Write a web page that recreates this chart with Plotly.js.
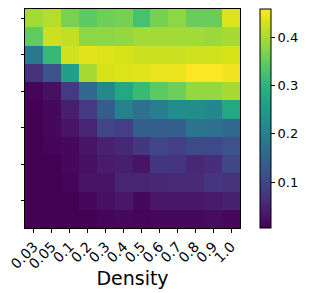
<!DOCTYPE html>
<html>
<head>
<meta charset="utf-8">
<script src="https://cdn.plot.ly/plotly-3.0.1.min.js"></script>
<style>html,body{margin:0;padding:0;background:#fff;}#chart{width:309px;height:293px;}</style>
</head>
<body>
<div id="chart"></div>
<script>
const densities = ['0.03','0.05','0.1','0.2','0.3','0.4','0.5','0.6','0.7','0.8','0.9','1.0'];
const rowIndex = [0,1,2,3,4,5,6,7,8,9,10,11];
const row0  = [0.395,0.408,0.367,0.345,0.358,0.363,0.327,0.363,0.381,0.354,0.354,0.435];
const row1  = [0.349,0.422,0.417,0.381,0.381,0.386,0.395,0.395,0.395,0.395,0.390,0.399];
const row2  = [0.186,0.309,0.426,0.440,0.435,0.431,0.422,0.422,0.422,0.426,0.426,0.431];
const row3  = [0.068,0.118,0.263,0.399,0.431,0.435,0.438,0.444,0.444,0.458,0.458,0.449];
const row4  = [0.010,0.023,0.082,0.159,0.218,0.277,0.313,0.345,0.358,0.386,0.386,0.399];
const row5  = [0.005,0.014,0.041,0.082,0.136,0.200,0.173,0.195,0.222,0.227,0.213,0.277];
const row6  = [0.005,0.014,0.028,0.050,0.100,0.087,0.141,0.141,0.141,0.177,0.173,0.159];
const row7  = [0.005,0.010,0.014,0.028,0.046,0.055,0.077,0.100,0.087,0.105,0.105,0.118];
const row8  = [0.005,0.005,0.014,0.023,0.037,0.041,0.028,0.077,0.073,0.055,0.064,0.100];
const row9  = [0.005,0.005,0.010,0.028,0.028,0.050,0.050,0.055,0.059,0.059,0.073,0.068];
const row10 = [0.005,0.005,0.005,0.014,0.023,0.032,0.014,0.032,0.032,0.032,0.037,0.046];
const row11 = [0.005,0.005,0.005,0.005,0.010,0.014,0.010,0.014,0.014,0.014,0.019,0.014];
const yTickVals = [0,2,4,6,8,10];
const yTickText = ['','','','','',''];
const cbTickVals = [0.1,0.2,0.3,0.4];
const cbTickText = ['0.1','0.2','0.3','0.4'];

const z = [row0,row1,row2,row3,row4,row5,row6,row7,row8,row9,row10,row11];

const font = 'DejaVu Sans, sans-serif';
const data = [{
  type: 'heatmap',
  x: densities,
  y: rowIndex,
  z: z,
  colorscale: 'Viridis',
  zmin: 0.005,
  zmax: 0.458,
  xgap: 0, ygap: 0,
  colorbar: {
    x: 1.095, xanchor: 'left', xref: 'paper',
    y: 0.5, yanchor: 'middle',
    len: 1, lenmode: 'fraction',
    thickness: 11, thicknessmode: 'pixels',
    outlinewidth: 1, outlinecolor: '#000',
    ticks: 'outside', ticklen: 4, tickwidth: 1, tickcolor: '#000',
    tickvals: cbTickVals, ticktext: cbTickText,
    tickfont: {family: font, size: 13, color: '#000'},
    xpad: 0, ypad: 0
  }
}];
const layout = {
  width: 309, height: 293,
  margin: {l: 25, r: 64, t: 9, b: 65},
  paper_bgcolor: '#fff', plot_bgcolor: '#fff',
  font: {family: font, color: '#000'},
  xaxis: {
    type: 'category',
    tickangle: -45,
    ticks: 'outside', ticklen: 4, tickwidth: 1, tickcolor: '#000',
    tickfont: {family: font, size: 14, color: '#000'},
    showline: true, linecolor: '#000', linewidth: 1, mirror: true,
    showgrid: false, zeroline: false,
    title: {text: 'Density', font: {family: font, size: 19, color: '#000'}, standoff: 0},
    automargin: false
  },
  yaxis: {
    autorange: 'reversed',
    tickvals: yTickVals, ticktext: yTickText,
    ticks: 'outside', ticklen: 3, tickwidth: 1, tickcolor: '#000',
    showline: true, linecolor: '#000', linewidth: 1, mirror: true,
    showgrid: false, zeroline: false,
    automargin: false
  }
};
Plotly.newPlot('chart', data, layout, {staticPlot: true, displayModeBar: false});
</script>
</body>
</html>
